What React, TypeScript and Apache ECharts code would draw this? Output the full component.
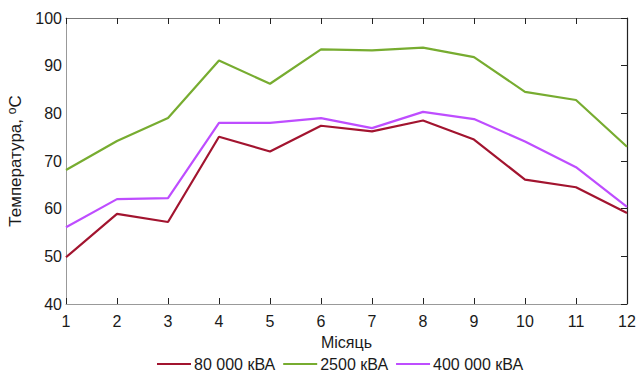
import React, { useEffect, useRef } from "react";
import * as echarts from "echarts";

const months = ["1", "2", "3", "4", "5", "6", "7", "8", "9", "10", "11", "12"];
const seriesNames = ["80 000 кВА", "2500 кВА", "400 000 кВА"];
const s80000 = [49.8, 58.9, 57.2, 75.1, 72.0, 77.4, 76.2, 78.5, 74.5, 66.1, 64.5, 59.1];
const s2500 = [68.1, 74.2, 79.0, 91.1, 86.2, 93.4, 93.2, 93.8, 91.8, 84.5, 82.8, 73.0];
const s400000 = [56.1, 62.0, 62.2, 78.0, 78.0, 79.0, 76.9, 80.3, 78.8, 74.1, 68.7, 60.4];
const colors = ["#A2142F", "#77AC30", "#BE4DFF"];

export default function App() {
  const ref = useRef<HTMLDivElement>(null);
  useEffect(() => {
    const chart = echarts.init(ref.current!, null, { renderer: "svg" });
    const font = "Liberation Sans, Arial, sans-serif";
    const fs = 16;
    const tc = "#1a1a1a";
    const data = [s80000, s2500, s400000];
    chart.setOption({
      animation: false,
      textStyle: { fontFamily: font },
      grid: { left: 66, right: 11, top: 18, bottom: 74, outerBoundsMode: "none", containLabel: false },
      legend: {
        bottom: 1,
        left: 152,
        icon: "rect",
        itemWidth: 34,
        itemHeight: 2,
        itemGap: 8,
        textStyle: { fontSize: fs, color: tc, fontFamily: font, padding: [0, 0, 0, -2] },
        data: seriesNames,
      },
      xAxis: [
        {
          type: "value",
          min: 1,
          max: 12,
          interval: 1,
          position: "bottom",
          name: "Місяць",
          nameLocation: "middle",
          nameGap: 30,
          nameTextStyle: { fontSize: fs, color: tc, fontFamily: font },
          axisLine: { lineStyle: { color: "#999", width: 1 } },
          axisTick: { inside: true, length: 6, lineStyle: { color: "#222" } },
          axisLabel: { fontSize: fs, color: tc, margin: 9, fontFamily: font },
          splitLine: { show: false },
        },
        {
          type: "value",
          min: 1,
          max: 12,
          interval: 1,
          position: "top",
          axisLine: { show: true, lineStyle: { color: "#777", width: 1 } },
          axisTick: { show: true, inside: true, length: 6, lineStyle: { color: "#222" } },
          axisLabel: { show: false },
          splitLine: { show: false },
        },
      ],
      yAxis: [
        {
          type: "value",
          min: 40,
          max: 100,
          interval: 10,
          position: "left",
          name: "{a|Температура, }{s|o}{a|C}",
          nameLocation: "middle",
          nameGap: 36,
          nameTextStyle: {
            fontSize: 17,
            color: tc,
            rich: {
              a: { fontSize: 17, color: tc, fontFamily: font },
              s: { fontSize: 12, color: tc, fontFamily: font, verticalAlign: "top", padding: [0, 0, 8, 0] },
            },
          },
          axisLine: { show: true, lineStyle: { color: "#999", width: 1 } },
          axisTick: { show: false },
          axisLabel: { fontSize: fs, color: tc, margin: 4, fontFamily: font },
          splitLine: { show: false },
        },
        {
          type: "value",
          min: 40,
          max: 100,
          interval: 10,
          position: "right",
          axisLine: { show: true, lineStyle: { color: "#222", width: 1.2 } },
          axisTick: { show: true, inside: true, length: 6, lineStyle: { color: "#222" } },
          axisLabel: { show: false },
          splitLine: { show: false },
        },
      ],
      series: seriesNames.map((name, i) => ({
        name,
        type: "line",
        xAxisIndex: 0,
        yAxisIndex: 0,
        data: data[i].map((v, j) => [Number(months[j]), v]),
        symbol: "none",
        lineStyle: { color: colors[i], width: 2.2 },
        itemStyle: { color: colors[i] },
      })),
    });
    return () => chart.dispose();
  }, []);
  return <div ref={ref} style={{ width: 638, height: 378, position: "absolute", left: 0, top: 0 }} />;
}
